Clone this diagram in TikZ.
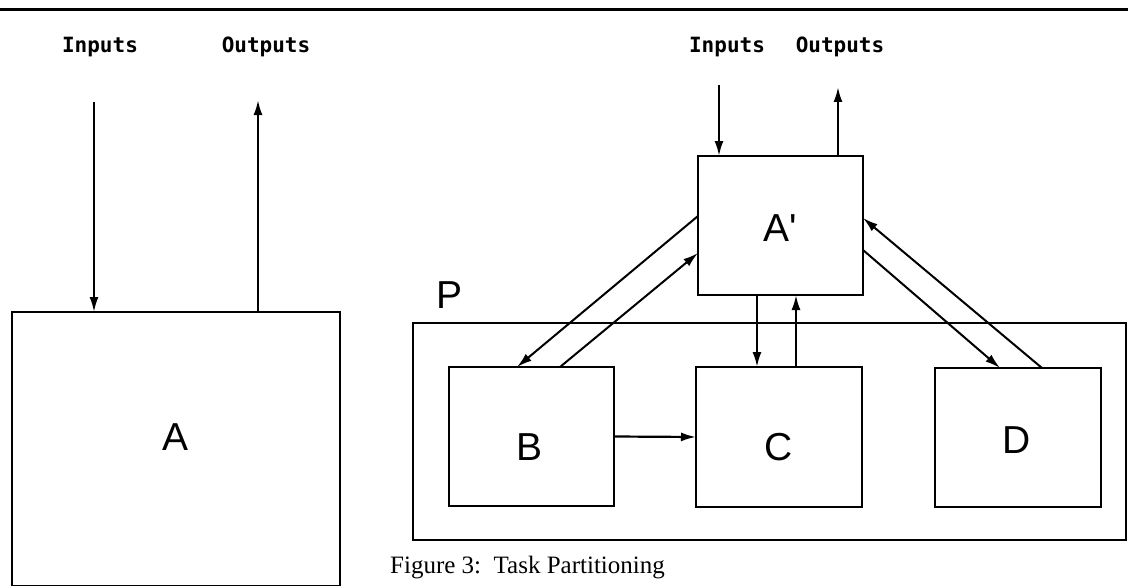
\documentclass[tikz,border=0pt]{standalone}
\usepackage{fontspec}
\setmainfont{Liberation Serif}
\newfontfamily\labfont{Liberation Sans}
\newfontfamily\monofont{DejaVu Sans Mono}
\usetikzlibrary{arrows.meta}
\begin{document}
\begin{tikzpicture}[x=1pt,y=-1pt,
  box/.style={draw, line width=2.8pt, rectangle, inner sep=0pt, outer sep=0pt},
  arr/.style={line width=2.2pt, -{Latex[length=15pt,width=9pt]}},
  diag/.style={line width=2pt, -{Latex[length=15pt,width=9pt]}},
  lbl/.style={font=\labfont\fontsize{39}{39}\selectfont, inner sep=0pt},
  io/.style={font=\monofont\bfseries\fontsize{21}{21}\selectfont, inner sep=0pt},
  captext/.style={font=\fontsize{25}{25}\selectfont, inner sep=0pt, anchor=north west}]
\useasboundingbox (0,0) rectangle (1128,586);
% top rule
\draw[line width=3pt] (0,10) -- (1128,10);

% ---------- left diagram ----------
\node[io] (inLt) at (100,47) {Inputs};
\node[io] (outLt) at (266,47) {Outputs};
\node[box, minimum width=328pt, minimum height=274pt] (A) at (176,449) {};
\node[lbl] (Al) at (176,437) {A};
\coordinate (inL) at (94,102);
\coordinate (outL) at (258,100);
\draw[arr] (inL) -- (inL |- A.north);
\draw[arr] (outL |- A.north) -- (outL);

% ---------- right diagram ----------
\node[io] (inRt) at (727,47) {Inputs};
\node[io] (outRt) at (840,47) {Outputs};
\node[box, minimum width=165pt, minimum height=139pt] (Ap) at (780.5,225.5) {};
\node[lbl] (Apl) at (780,228) {A\textquotesingle};
\node[box, minimum width=713pt, minimum height=217pt] (P) at (769.5,431.5) {};
\node[lbl] (Pl) at (450,295) {P};
\node[box, minimum width=165pt, minimum height=139pt] (B) at (531.5,436.5) {};
\node[lbl] (Bl) at (530,447) {B};
\node[box, minimum width=166pt, minimum height=140pt] (C) at (779,437) {};
\node[lbl] (Cl) at (779,447) {C};
\node[box, minimum width=166pt, minimum height=139pt] (D) at (1018,437.5) {};
\node[lbl] (Dl) at (1017,440) {D};

\coordinate (inR) at (719,85);
\coordinate (outR) at (838,87);
\draw[arr] (inR) -- (inR |- Ap.north);
\draw[arr] (outR |- Ap.north) -- (outR);

% A' <-> B
\draw[diag] ([yshift=9.5pt]Ap.west) -- ([xshift=-14.5pt]B.north);
\draw[diag] ([xshift=28.5pt]B.north) -- ([yshift=-27.5pt]Ap.west);
% A' <-> C
\draw[arr] ([xshift=-23.5pt]Ap.south) -- ([xshift=-22pt]C.north);
\draw[arr] ([xshift=17pt]C.north) -- ([xshift=15.5pt]Ap.south);
% A' <-> D
\draw[diag] ([yshift=-24.5pt]Ap.east) -- ([xshift=-18pt]D.north);
\draw[diag] ([xshift=24pt]D.north) -- ([yshift=7.5pt]Ap.east);
% B -> C
\draw[arr] (B.east) -- (C.west);

% caption
\node[captext] (caption) at (390,556) {Figure 3:\ \ Task Partitioning};
\end{tikzpicture}
\end{document}
